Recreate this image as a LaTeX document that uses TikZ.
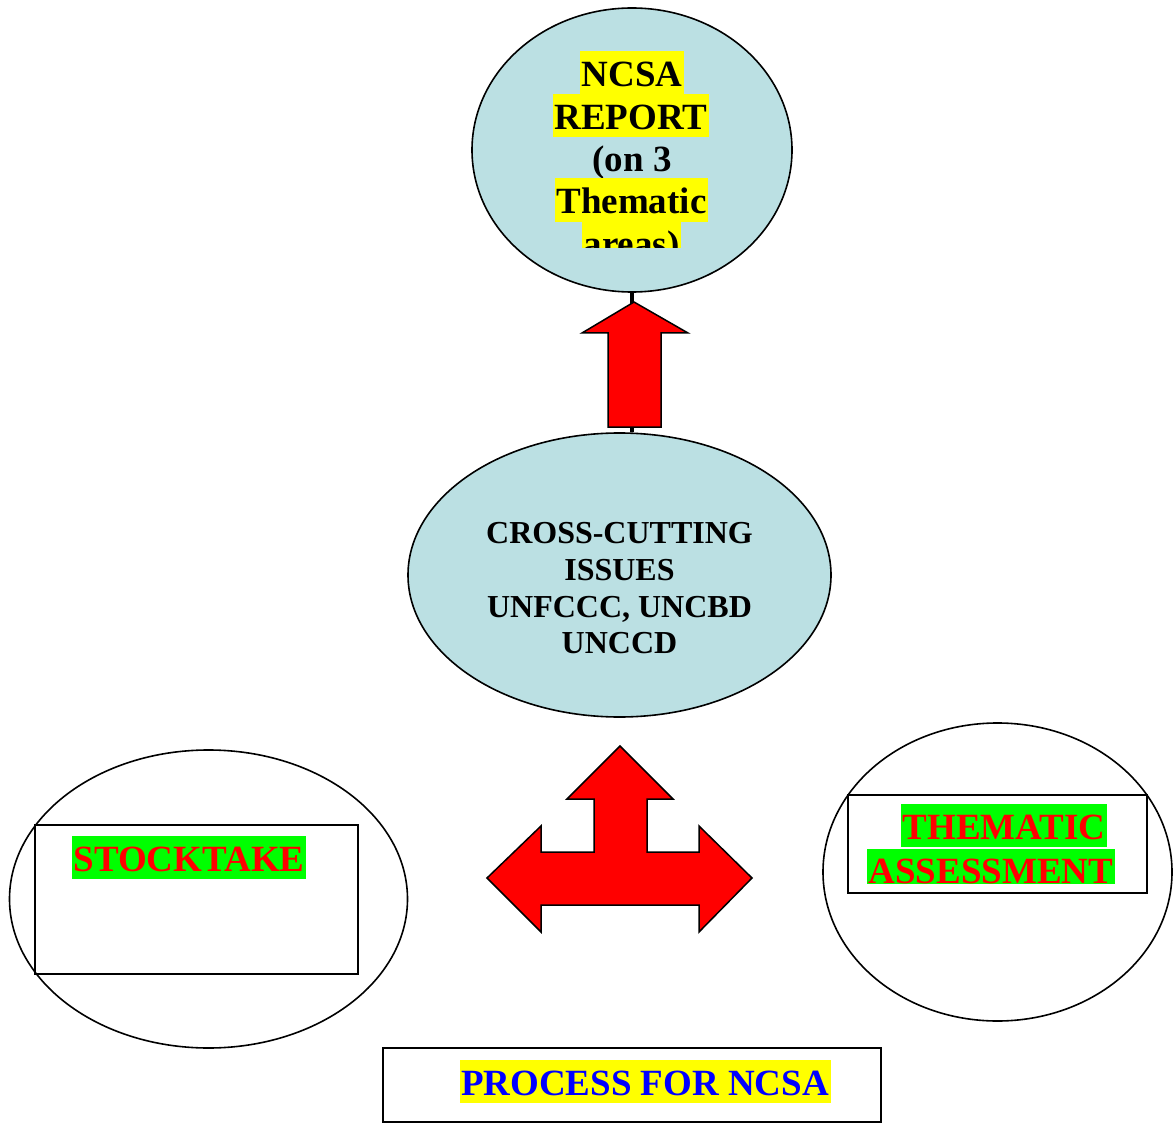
\documentclass[tikz,border=0pt]{standalone}
\usepackage{fontspec}
\setmainfont{Liberation Serif}
\usetikzlibrary{shapes.geometric}
\definecolor{lblue}{HTML}{BBE0E3}
\definecolor{hlyellow}{HTML}{FFFF00}
\definecolor{hlgreen}{HTML}{00FF00}
\definecolor{arrred}{HTML}{FF0000}
\definecolor{txtblue}{HTML}{0000FF}
\begin{document}
\begin{tikzpicture}[x=1pt,y=-1pt,
  oval/.style={ellipse, draw=black, line width=1.6pt, inner sep=0pt},
  boxr/.style={rectangle, draw=black, line width=2pt, inner sep=0pt},
  big/.style={font=\fontsize{37}{43}\selectfont\bfseries, anchor=base, inner xsep=1.5pt, inner ysep=2pt, text height=33.5pt, text depth=6pt},
  mid/.style={font=\fontsize{32}{37}\selectfont\bfseries, anchor=base, inner sep=0pt},
  bigarrow/.style={draw=black, line width=1.5pt, fill=arrred, line join=miter}
]
\useasboundingbox (0,0) rectangle (1173,1123);

% ellipses
\node[oval, fill=lblue, minimum width=320pt, minimum height=284pt] (ncsa) at (632,150) {};
\node[oval, fill=lblue, minimum width=423pt, minimum height=284pt] (cross) at (619.5,575) {};
\node[oval, fill=white, minimum width=398pt, minimum height=298pt] (stock) at (208.5,899) {};
\node[oval, fill=white, minimum width=349pt, minimum height=298pt] (them) at (997.5,872) {};

% rectangles
\node[boxr, minimum width=323pt, minimum height=149pt] (stockbox) at (196.5,899.5) {};
\node[boxr, minimum width=299pt, minimum height=98pt] (thembox) at (997.5,844) {};
\node[boxr, minimum width=498pt, minimum height=74pt] (procbox) at (632,1085) {};

% connector
\draw[line width=4.5pt] (ncsa.south) -- (ncsa.south |- cross.north);

% up arrow
\draw[bigarrow] (634,302) -- (688,333) -- (661,333) -- (661,427) -- (608,427) -- (608,333) -- (582,333) -- cycle;

% three-way arrow
\draw[bigarrow] (620,746) -- (673,799) -- (647,799) -- (647,852) -- (699,852) -- (699,826) -- (752,878)
  -- (699,932) -- (699,905) -- (541,905) -- (541,932) -- (487,878) -- (541,826) -- (541,852)
  -- (594,852) -- (594,799) -- (567,799) -- cycle;

% top ellipse text
\begin{scope}
\clip (540,40) rectangle (730,248);
\node[big, fill=hlyellow] (t1) at (632,87) {NCSA};
\node[big, fill=hlyellow] (t2) at (631,129.5) {REPORT};
\node[big] (t3) at (632,172) {(on 3};
\node[big, fill=hlyellow] (t4) at (631.5,214) {Thematic};
\node[big, fill=hlyellow] (t5) at (631.5,256.5) {areas)};
\end{scope}

% middle ellipse text
\node[mid] (c1) at (619.5,543) {CROSS-CUTTING};
\node[mid] (c2) at (619.5,580) {ISSUES};
\node[mid] (c3) at (619.5,617) {UNFCCC, UNCBD};
\node[mid] (c4) at (619.5,653) {UNCCD};

% stocktake
\node[big, fill=hlgreen, text=arrred, inner xsep=2pt] (s1) at (189,871) {STOCKTAKE};

% thematic assessment
\node[big, fill=hlgreen, text=arrred] (a1) at (1004,839) {THEMATIC};
\node[big, fill=hlgreen, text=arrred, text depth=0pt, inner ysep=1pt] (a2) at (991,883) {ASSESSMENT\hspace{4pt}};

% process
\node[big, fill=hlyellow, text=txtblue] (p1) at (645,1095) {PROCESS FOR NCSA};
\end{tikzpicture}
\end{document}
